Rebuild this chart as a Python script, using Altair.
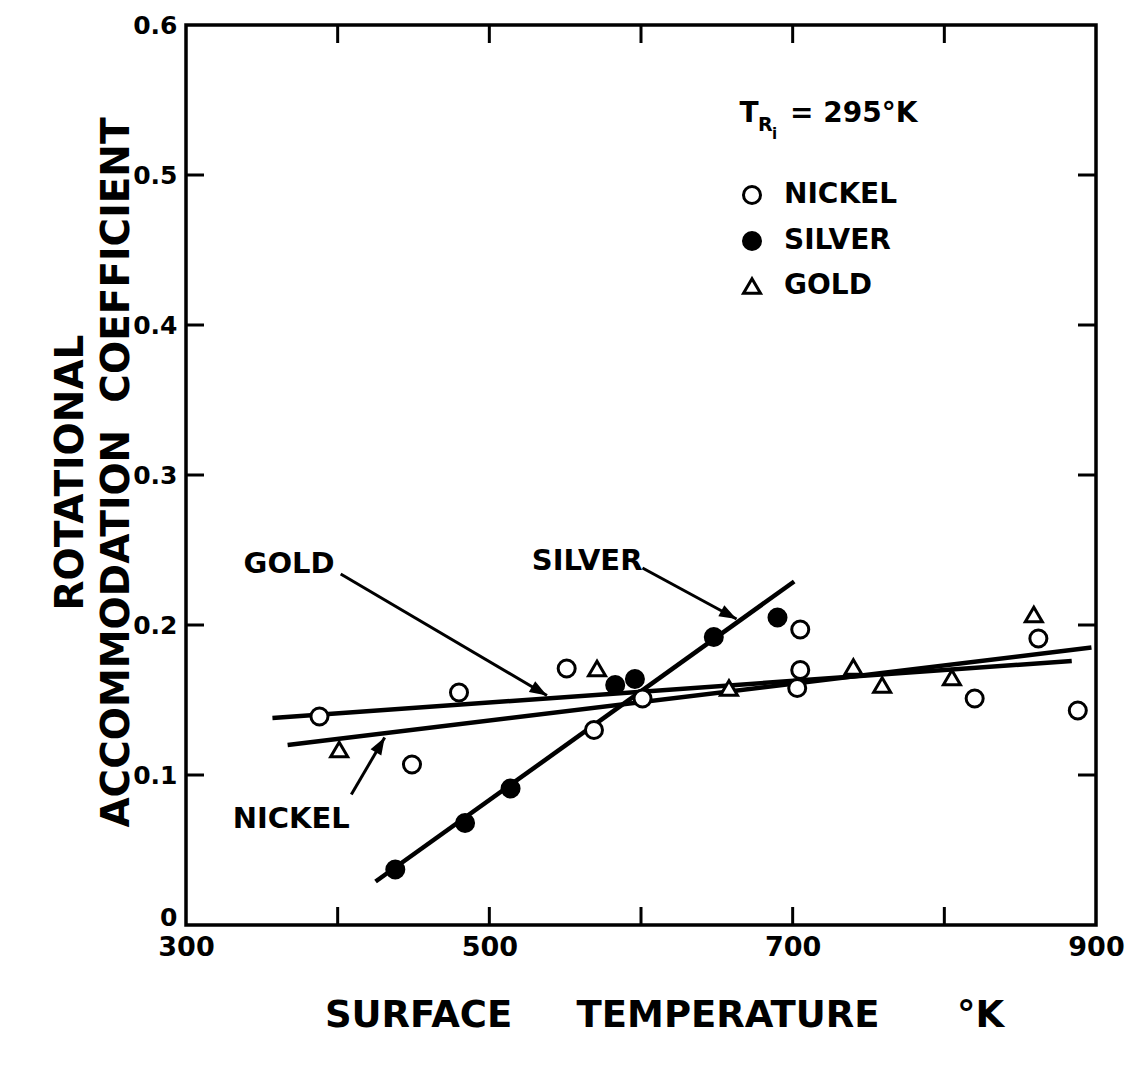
import math
import altair as alt
import pandas as pd

# ---------------- data ----------------
nickel_T = [388, 449, 480, 551, 569, 601, 705, 705, 703, 820, 862, 888]
nickel_v = [0.139, 0.107, 0.155, 0.171, 0.130, 0.151, 0.197, 0.170, 0.158, 0.151, 0.191, 0.143]

silver_T = [438, 484, 514, 583, 596, 648, 690]
silver_v = [0.037, 0.068, 0.091, 0.160, 0.164, 0.192, 0.205]

gold_T = [401, 571, 658, 740, 759, 805, 859]
gold_v = [0.117, 0.171, 0.158, 0.172, 0.160, 0.165, 0.207]

# fitted straight lines (end points)
fit_names = ["GOLD", "GOLD", "NICKEL", "NICKEL", "SILVER", "SILVER"]
fit_T = [357, 884, 367, 897, 425, 701]
fit_v = [0.138, 0.176, 0.120, 0.185, 0.029, 0.229]

# arrow annotations
arrow_labels = ["GOLD", "NICKEL", "SILVER"]
label_T = [398, 408, 601]
label_v = [0.241, 0.071, 0.243]
arrow_from_T = [402, 409, 601]
arrow_from_v = [0.234, 0.087, 0.238]
arrow_to_T = [538, 431, 663]
arrow_to_v = [0.153, 0.125, 0.204]

x_tick_values = [400, 500, 600, 700, 800]
y_tick_values = [0.1, 0.2, 0.3, 0.4, 0.5]
x_label_values = [300, 500, 700, 900]
y_label_values = [0, 0.1, 0.2, 0.3, 0.4, 0.5, 0.6]

materials = ["NICKEL", "SILVER", "GOLD"]

# ---------------- layout / style ----------------
W, H = 910, 900
XDOM, YDOM = [300, 900], [0, 0.6]
FONT = "DejaVu Sans"
NB = "\u00a0"

points = pd.DataFrame({
    "T": nickel_T + silver_T + gold_T,
    "v": nickel_v + silver_v + gold_v,
    "material": ["NICKEL"] * len(nickel_T) + ["SILVER"] * len(silver_T) + ["GOLD"] * len(gold_T),
})
fits = pd.DataFrame({"T": fit_T, "v": fit_v, "line": fit_names})

arrows = pd.DataFrame({
    "label": arrow_labels,
    "lT": label_T, "lv": label_v,
    "T0": arrow_from_T, "v0": arrow_from_v,
    "T1": arrow_to_T, "v1": arrow_to_v,
})
sx = W / (XDOM[1] - XDOM[0])
sy = H / (YDOM[1] - YDOM[0])
arrows["angle"] = [
    math.degrees(math.atan2(-(b1 - b0) * sy, (a1 - a0) * sx)) % 360
    for a0, a1, b0, b1 in zip(arrows.T0, arrows.T1, arrows.v0, arrows.v1)
]

xticks = pd.DataFrame({"T": x_tick_values})
yticks = pd.DataFrame({"v": y_tick_values})

xscale = alt.Scale(domain=XDOM, nice=False, zero=False)
yscale = alt.Scale(domain=YDOM, nice=False, zero=False)

x_title = "SURFACE" + NB * 5 + "TEMPERATURE" + NB * 6 + "°K"

xaxis = alt.Axis(
    values=x_label_values, ticks=False, domain=False, grid=False,
    labelFlush=False, labelOverlap=False, labelPadding=9,
    labelFontSize=27, labelFont=FONT, labelFontWeight="bold", labelColor="black",
    title=x_title, titleFontSize=37, titleFont=FONT,
    titleFontWeight="bold", titleColor="black",
    titleX=478, titleY=90, titleAlign="center", titleBaseline="middle",
)
yaxis = alt.Axis(
    values=y_label_values, ticks=False, domain=False, grid=False,
    labelFlush=False, labelOverlap=False, labelPadding=9,
    labelOffset={"condition": {"test": "datum.value == 0", "value": -8}, "value": 0},
    labelExpr="datum.value == 0 ? '0' : format(datum.value, '.1f')",
    labelFontSize=25, labelFont=FONT, labelFontWeight="bold", labelColor="black",
    title=["ROTATIONAL", "ACCOMMODATION" + NB * 2 + "COEFFICIENT"], titleFontSize=39,
    titleFont=FONT, titleFontWeight="bold", titleColor="black", titleLineHeight=46,
    titleAngle=270, titleX=-116, titleY=447, titleAlign="center", titleBaseline="middle",
)


def X(field):
    return alt.X(f"{field}:Q", scale=xscale, axis=xaxis)


def Y(field):
    return alt.Y(f"{field}:Q", scale=yscale, axis=yaxis)


# fitted lines
fit_layer = alt.Chart(fits).mark_line(color="black", strokeWidth=4.5, clip=False).encode(
    x=X("T"), y=Y("v"), detail="line:N"
)

# data points
legend = alt.Legend(
    orient="none", legendX=552, legendY=156, title=None,
    labelFont=FONT, labelFontWeight="bold", labelFontSize=28, labelColor="black",
    symbolStrokeColor="black", symbolStrokeWidth=3, symbolSize=290,
    rowPadding=16, labelOffset=18, padding=0,
)
point_layer = alt.Chart(points).mark_point(
    filled=True, strokeWidth=3, size=290, opacity=1
).encode(
    x=X("T"), y=Y("v"),
    shape=alt.Shape("material:N", sort=materials,
                    scale=alt.Scale(domain=materials, range=["circle", "circle", "triangle-up"]),
                    legend=legend),
    fill=alt.Fill("material:N", sort=materials,
                  scale=alt.Scale(domain=materials, range=["white", "black", "white"]),
                  legend=legend),
    stroke=alt.Stroke("material:N", sort=materials,
                      scale=alt.Scale(domain=materials, range=["black", "black", "black"]),
                      legend=legend),
)

# inward tick marks on all four sides
TL = 18
tick_bottom = alt.Chart(xticks).mark_rule(color="black", strokeWidth=3).encode(
    x=X("T"), y=alt.value(H), y2=alt.value(H - TL))
tick_top = alt.Chart(xticks).mark_rule(color="black", strokeWidth=3).encode(
    x=X("T"), y=alt.value(0), y2=alt.value(TL))
tick_left = alt.Chart(yticks).mark_rule(color="black", strokeWidth=3).encode(
    y=Y("v"), x=alt.value(0), x2=alt.value(TL))
tick_right = alt.Chart(yticks).mark_rule(color="black", strokeWidth=3).encode(
    y=Y("v"), x=alt.value(W), x2=alt.value(W - TL))

# arrows
arrow_lines = alt.Chart(arrows).mark_rule(color="black", strokeWidth=3).encode(
    x=X("T0"), y=Y("v0"), x2="T1:Q", y2="v1:Q")
arrow_heads = alt.Chart(arrows).mark_point(
    shape="M 0 0 L -1 -0.36 L -1 0.36 Z", filled=True, color="black", size=1200, opacity=1
).encode(x=X("T1"), y=Y("v1"), angle=alt.Angle("angle:Q", scale=None))
arrow_text = alt.Chart(arrows).mark_text(
    align="right", baseline="middle", font=FONT, fontWeight="bold", fontSize=29, color="black"
).encode(x=X("lT"), y=Y("lv"), text="label:N")

# T_Ri = 295 K annotation
ann_T = alt.Chart(pd.DataFrame({"t": ["T"]})).mark_text(
    align="center", baseline="alphabetic", font=FONT, fontWeight="bold", fontSize=28, color="black"
).encode(x=alt.value(563), y=alt.value(97), text="t:N")
ann_R = alt.Chart(pd.DataFrame({"t": ["R"]})).mark_text(
    align="left", baseline="alphabetic", font=FONT, fontWeight="bold", fontSize=19, color="black"
).encode(x=alt.value(572), y=alt.value(106), text="t:N")
ann_i = alt.Chart(pd.DataFrame({"t": ["i"]})).mark_text(
    align="left", baseline="alphabetic", font=FONT, fontWeight="bold", fontSize=15, color="black"
).encode(x=alt.value(586), y=alt.value(114), text="t:N")
ann_val = alt.Chart(pd.DataFrame({"t": ["= 295°K"]})).mark_text(
    align="left", baseline="alphabetic", font=FONT, fontWeight="bold", fontSize=28, color="black"
).encode(x=alt.value(604), y=alt.value(97), text="t:N")

chart = alt.layer(
    tick_bottom, tick_top, tick_left, tick_right,
    fit_layer, arrow_lines, arrow_heads, arrow_text,
    point_layer, ann_T, ann_R, ann_i, ann_val,
).properties(
    width=W, height=H,
    autosize=alt.AutoSizeParams(type="none"),
    padding={"left": 178, "top": 17, "right": 34, "bottom": 120},
    background="white",
).configure_view(
    stroke="black", strokeWidth=3.5
)

chart.save("out.html", embed_options={"renderer": "svg", "actions": False})
